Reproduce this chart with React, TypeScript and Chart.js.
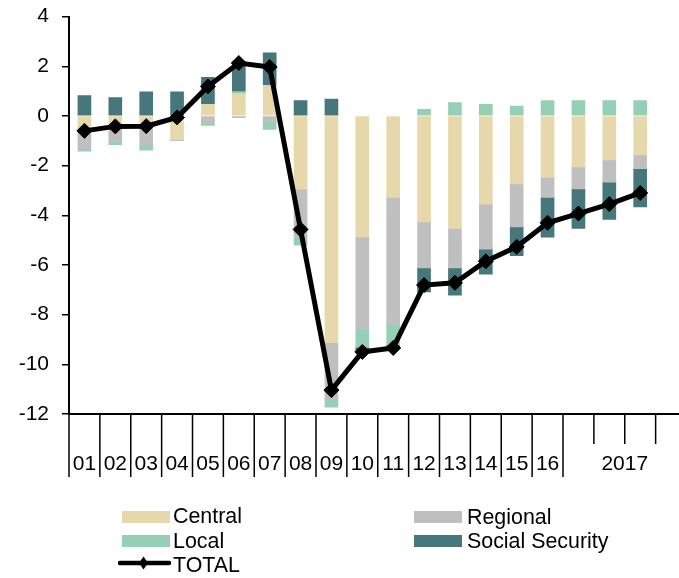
import React, { useEffect, useRef } from "react";
import { Chart, registerables } from "chart.js";

Chart.register(...registerables);

// ---- data ----
const periods = [
  "01", "02", "03", "04", "05", "06", "07", "08", "09", "10",
  "11", "12", "13", "14", "15", "16", "2017Q1", "2017Q2", "2017Q3", "2017Q4",
];
const axisLabels = ["01", "02", "03", "04", "05", "06", "07", "08", "09", "10", "11", "12", "13", "14", "15", "16"];
const groupLabel = "2017";
const groupStart = 16;

const central = [-0.48, -0.31, -0.4, -0.95, 0.47, 0.9, 1.23, -2.95, -9.13, -4.87, -3.28, -4.27, -4.53, -3.55, -2.74, -2.47, -2.05, -1.77, -1.57, null];
const regional = [-0.86, -0.72, -0.78, -0.05, -0.3, -0.07, -0.24, -1.95, -2.25, -3.73, -5.1, -1.85, -1.59, -1.81, -1.73, -0.81, -0.89, -0.9, -0.55, null];
const local = [-0.08, -0.13, -0.2, 0, -0.08, 0.08, -0.3, -0.3, -0.34, -0.72, -0.85, 0.27, 0.54, 0.47, 0.4, 0.62, 0.62, 0.62, 0.62, null];
const socialSecurity = [0.82, 0.74, 0.97, 0.97, 1.08, 1.22, 1.31, 0.62, 0.68, -0.18, -0.11, -0.96, -1.1, -1.01, -1.16, -1.6, -1.59, -1.5, -1.54, null];
const total = [-0.6, -0.42, -0.41, -0.06, 1.19, 2.13, 1.97, -4.57, -11.04, -9.5, -9.34, -6.81, -6.72, -5.85, -5.27, -4.3, -3.93, -3.55, -3.1, null];

const yMin = -12;
const yMax = 4;
const yStep = 2;

const seriesNames = ["Central", "Regional", "Local", "Social Security", "TOTAL"];

// ---- styles ----
const FONT = "'Liberation Sans', Arial, Helvetica, sans-serif";
const COLORS = {
  central: "#E6D8AA",
  regional: "#BFBFBF",
  local: "#96D0B4",
  social: "#46777D",
  total: "#000000",
};
const CANVAS_SHIFT = -9;
const CANVAS_H = 587;

const xAxisPlugin = {
  id: "groupedXAxis",
  afterDraw(chart: any) {
    const xs = chart.scales.x;
    const ctx = chart.ctx;
    const bottom = chart.chartArea.bottom;
    const n = periods.length;
    const half = (xs.getPixelForValue(1) - xs.getPixelForValue(0)) / 2;
    const boundary = (k: number) =>
      k < n ? xs.getPixelForValue(k) - half : xs.getPixelForValue(n - 1) + half;
    ctx.save();
    ctx.strokeStyle = "#000";
    ctx.lineWidth = 1.5;
    for (let k = 0; k <= n; k++) {
      const long = k <= groupStart || k === n;
      const bx = boundary(k);
      ctx.beginPath();
      ctx.moveTo(bx, bottom);
      ctx.lineTo(bx, bottom + (long ? 63 : 30));
      ctx.stroke();
    }
    ctx.fillStyle = "#000";
    ctx.font = `21px ${FONT}`;
    ctx.textAlign = "center";
    ctx.textBaseline = "middle";
    axisLabels.forEach((lab, i) => {
      ctx.fillText(lab, xs.getPixelForValue(i), bottom + 50.5);
    });
    ctx.fillText(groupLabel, (boundary(groupStart) + boundary(n)) / 2, bottom + 50.5);
    ctx.restore();
  },
};

function LegendText({ left, top, text }: { left: number; top: number; text: string }) {
  return (
    <div
      style={{
        position: "absolute",
        left,
        top,
        fontFamily: FONT,
        fontSize: 21.4,
        lineHeight: "24px",
        color: "#000",
        whiteSpace: "nowrap",
      }}
    >
      {text}
    </div>
  );
}

function Swatch({ left, top, color }: { left: number; top: number; color: string }) {
  return (
    <div style={{ position: "absolute", left, top, width: 48, height: 12, background: color }} />
  );
}

export default function App() {
  const ref = useRef<HTMLCanvasElement | null>(null);

  useEffect(() => {
    if (!ref.current) return;
    const barBase = {
      type: "bar" as const,
      stack: "gov",
      barThickness: 13,
      borderWidth: 0,
      order: 2,
    };
    const chart = new Chart(ref.current, {
      type: "bar",
      data: {
        labels: periods,
        datasets: [
          { ...barBase, label: seriesNames[0], data: central, backgroundColor: COLORS.central },
          { ...barBase, label: seriesNames[1], data: regional, backgroundColor: COLORS.regional },
          { ...barBase, label: seriesNames[2], data: local, backgroundColor: COLORS.local },
          { ...barBase, label: seriesNames[3], data: socialSecurity, backgroundColor: COLORS.social },
          {
            type: "line" as const,
            label: seriesNames[4],
            data: total,
            stack: "total",
            order: 0,
            borderColor: COLORS.total,
            backgroundColor: COLORS.total,
            borderWidth: 5,
            pointStyle: "rectRot",
            pointRadius: 7.5,
            pointBorderWidth: 1,
            pointBackgroundColor: COLORS.total,
            pointBorderColor: COLORS.total,
            tension: 0,
            fill: false,
          } as any,
        ],
      },
      options: {
        responsive: false,
        animation: false,
        devicePixelRatio: 1,
        layout: { padding: { top: 0, left: 0, right: 0, bottom: 0 } },
        plugins: {
          legend: { display: false },
          tooltip: { enabled: false },
        },
        scales: {
          x: {
            stacked: true,
            offset: true,
            grid: { display: false, drawTicks: false },
            ticks: { display: false },
            border: { display: true, color: "#000", width: 2 },
            afterFit: (s: any) => {
              s.height = 164;
            },
          },
          y: {
            stacked: true,
            min: yMin,
            max: yMax,
            ticks: {
              stepSize: yStep,
              color: "#000",
              padding: 13,
              font: { family: FONT, size: 21 },
            },
            grid: {
              drawOnChartArea: false,
              drawTicks: true,
              tickLength: 7,
              color: "#000",
              lineWidth: 1.5,
            },
            border: { display: true, color: "#000", width: 2 },
            afterFit: (s: any) => {
              s.width = 69;
            },
          },
        },
      },
      plugins: [xAxisPlugin],
    });
    return () => chart.destroy();
  }, []);

  return (
    <div
      style={{
        position: "fixed",
        left: 0,
        top: 0,
        width: 679,
        height: 578,
        overflow: "hidden",
        background: "#fff",
      }}
    >
      <canvas
        ref={ref}
        width={695}
        height={CANVAS_H}
        style={{ position: "absolute", left: 0, top: CANVAS_SHIFT, width: 695, height: CANVAS_H }}
      />
      <Swatch left={122} top={510.5} color={COLORS.central} />
      <LegendText left={173} top={504} text={seriesNames[0]} />
      <Swatch left={414} top={511} color={COLORS.regional} />
      <LegendText left={467} top={504.5} text={seriesNames[1]} />
      <Swatch left={122} top={535} color={COLORS.local} />
      <LegendText left={173} top={528.5} text={seriesNames[2]} />
      <Swatch left={414} top={535} color={COLORS.social} />
      <LegendText left={467} top={529} text={seriesNames[3]} />
      <svg
        style={{ position: "absolute", left: 118, top: 555 }}
        width={54}
        height={16}
        viewBox="0 0 54 16"
      >
        <line x1={2} y1={8} x2={51} y2={8} stroke="#000" strokeWidth={4.5} strokeLinecap="round" />
        <polygon points="25.5,1.5 30,8 25.5,14.5 21,8" fill="#000" />
      </svg>
      <LegendText left={173} top={552.7} text={seriesNames[4]} />
    </div>
  );
}
